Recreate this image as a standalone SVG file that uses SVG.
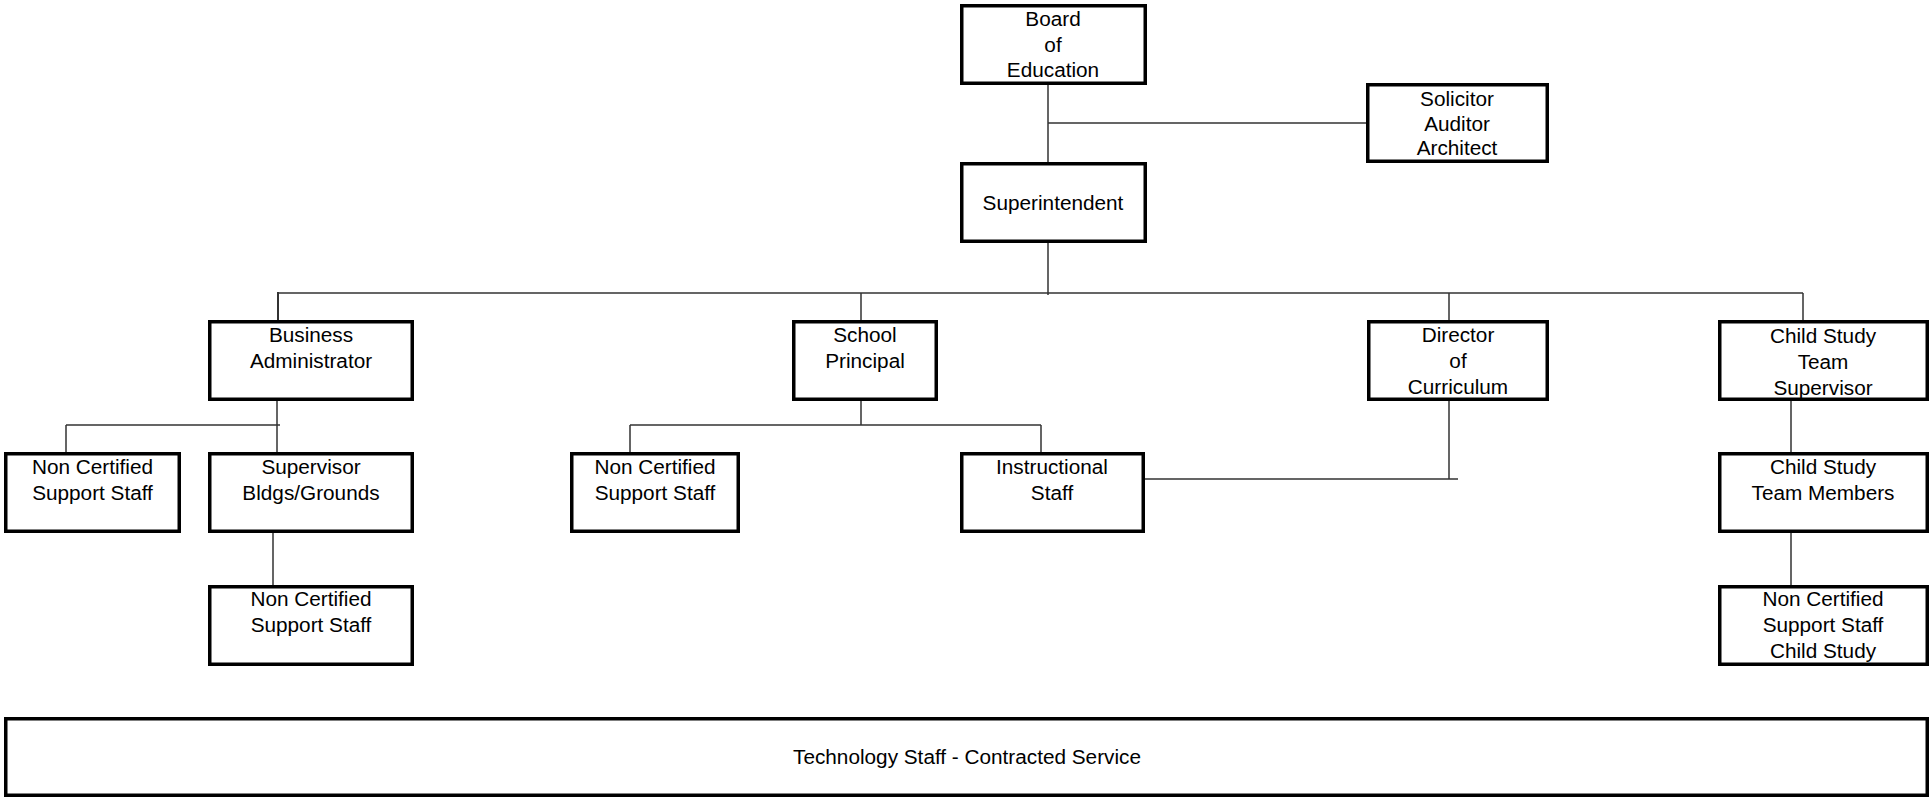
<svg xmlns="http://www.w3.org/2000/svg" width="1931" height="798" viewBox="0 0 1931 798">
<style>
.box{fill:#fff;stroke:#000;stroke-width:3.5}
.t{font-family:"Liberation Sans",Arial,sans-serif;font-size:20.75px;fill:#000;text-anchor:middle}
.c{fill:none;stroke:#333;stroke-width:1.5}
</style>
<rect width="1931" height="798" fill="#fff"/>
<g id="connectors">
<path class="c" d="M1048 85V162M1048 123H1366M1048 243V295"/>
<path class="c" d="M278 293H1803M861 293V320M1449 293V320M1803 293V320"/>
<path class="c" style="stroke-width:2" d="M278 292V320"/>
<path class="c" d="M277 401V452M66 425H280M66 425V452M273 533V585"/>
<path class="c" d="M861 401V425M630 425H1041M630 425V452M1041 425V452"/>
<path class="c" d="M1449 401V479M1145 479H1458"/>
<path class="c" d="M1791 401V452M1791 533V585"/>
</g>
<g id="board"><rect class="box" x="961.75" y="5.75" width="183.5" height="77.5"/>
<text class="t" x="1053" y="26">Board</text><text class="t" x="1053" y="51.5">of</text><text class="t" x="1053" y="77">Education</text></g>
<g id="superintendent"><rect class="box" x="961.75" y="163.75" width="183.5" height="77.5"/>
<text class="t" x="1053" y="210">Superintendent</text></g>
<g id="solicitor"><rect class="box" x="1367.75" y="84.75" width="179.5" height="76.5"/>
<text class="t" x="1457" y="106">Solicitor</text><text class="t" x="1457" y="130.5">Auditor</text><text class="t" x="1457" y="155">Architect</text></g>
<g id="business"><rect class="box" x="209.75" y="321.75" width="202.5" height="77.5"/>
<text class="t" x="311" y="342">Business</text><text class="t" x="311" y="368">Administrator</text></g>
<g id="principal"><rect class="box" x="793.75" y="321.75" width="142.5" height="77.5"/>
<text class="t" x="865" y="342">School</text><text class="t" x="865" y="368">Principal</text></g>
<g id="director"><rect class="box" x="1368.75" y="321.75" width="178.5" height="77.5"/>
<text class="t" x="1458" y="342">Director</text><text class="t" x="1458" y="368">of</text><text class="t" x="1458" y="394">Curriculum</text></g>
<g id="cst-supervisor"><rect class="box" x="1719.75" y="321.75" width="207.5" height="77.5"/>
<text class="t" x="1823" y="343">Child Study</text><text class="t" x="1823" y="369">Team</text><text class="t" x="1823" y="395">Supervisor</text></g>
<g id="nc-business"><rect class="box" x="5.75" y="453.75" width="173.5" height="77.5"/>
<text class="t" x="92.5" y="474">Non Certified</text><text class="t" x="92.5" y="500">Support Staff</text></g>
<g id="supervisor-bldgs"><rect class="box" x="209.75" y="453.75" width="202.5" height="77.5"/>
<text class="t" x="311" y="474">Supervisor</text><text class="t" x="311" y="500">Bldgs/Grounds</text></g>
<g id="nc-school"><rect class="box" x="571.75" y="453.75" width="166.5" height="77.5"/>
<text class="t" x="655" y="474">Non Certified</text><text class="t" x="655" y="500">Support Staff</text></g>
<g id="instructional"><rect class="box" x="961.75" y="453.75" width="181.5" height="77.5"/>
<text class="t" x="1052" y="474">Instructional</text><text class="t" x="1052" y="500">Staff</text></g>
<g id="cst-members"><rect class="box" x="1719.75" y="453.75" width="207.5" height="77.5"/>
<text class="t" x="1823" y="474">Child Study</text><text class="t" x="1823" y="500">Team Members</text></g>
<g id="nc-grounds"><rect class="box" x="209.75" y="586.75" width="202.5" height="77.5"/>
<text class="t" x="311" y="606">Non Certified</text><text class="t" x="311" y="632">Support Staff</text></g>
<g id="nc-childstudy"><rect class="box" x="1719.75" y="586.75" width="207.5" height="77.5"/>
<text class="t" x="1823" y="606">Non Certified</text><text class="t" x="1823" y="632">Support Staff</text><text class="t" x="1823" y="658">Child Study</text></g>
<g id="technology"><rect class="box" x="5.75" y="718.75" width="1921.5" height="76.5"/>
<text class="t" x="967" y="764">Technology Staff - Contracted Service</text></g>
</svg>
